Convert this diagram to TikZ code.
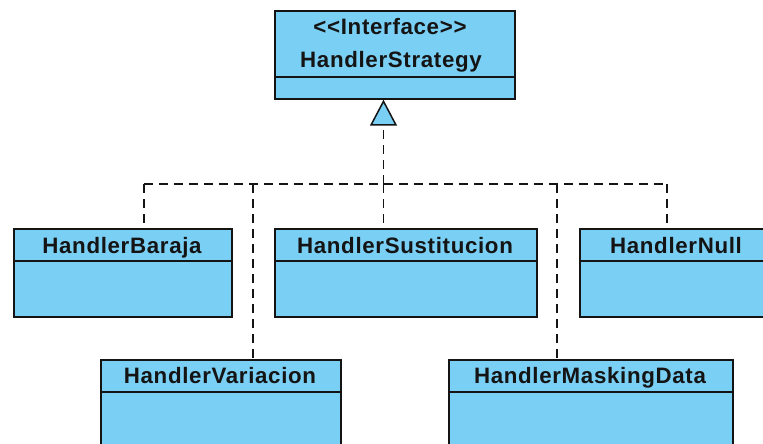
\documentclass[tikz,border=0pt]{standalone}
\usepackage{fontspec}
\setmainfont{Liberation Sans}[LetterSpace=3]
\usetikzlibrary{arrows.meta,calc}
\definecolor{umlfill}{RGB}{122,207,245}
\definecolor{umlink}{RGB}{20,20,20}
\tikzset{
  classbox/.style={draw=umlink, fill=umlfill, line width=1.7pt, inner sep=0pt, anchor=north west},
  divider/.style={draw=umlink, line width=1.7pt},
  classname/.style={font=\fontsize{22.3}{24}\selectfont\bfseries, text=umlink, anchor=base, inner sep=0pt},
  realize/.style={draw=umlink, line width=1.5pt, dash pattern=on 9pt off 6pt},
  hollowtri/.style={-{Triangle[length=26pt,width=27pt,fill=umlfill,line width=1.5pt]}}
}
% one class box: name, left, top, right, divider y, bottom, label, label baseline
\newcommand{\umlclass}[8]{%
  \node[classbox, minimum width=#4pt-#2pt, minimum height=#6pt-#3pt] (#1) at (#2pt,-#3pt) {};
  \draw[divider] (#2pt,-#5pt) -- (#4pt,-#5pt);
  \node[classname] (#1-t) at ({(#2pt+#4pt)/2},-#8pt) {#7};
}
\begin{document}
\begin{tikzpicture}[x=1pt,y=1pt]
\useasboundingbox (0,0) rectangle (763,-444);
\clip (0,0) rectangle (763,-444);

% interface
\node[classbox, minimum width=240pt, minimum height=88pt] (iface) at (274,-10) {};
\draw[divider] (274,-77) -- (514,-77);
\node[classname] (iface-s) at (390,-35) {{<}{<}Interface{>}{>}};
\node[classname] (iface-n) at (391,-68) {HandlerStrategy};

% implementing classes
\umlclass{baraja}{13}{228}{231}{261}{316}{HandlerBaraja}{253}
\umlclass{sust}{274}{228}{536}{261}{316}{HandlerSustitucion}{253}
\umlclass{null}{579}{228}{773}{261}{316}{HandlerNull}{253}
\umlclass{vari}{100}{359}{340}{392}{470}{HandlerVariacion}{383}
\umlclass{mask}{448}{359}{732}{392}{470}{HandlerMaskingData}{383}

% realization connectors
\coordinate (j) at (383.5,-184);
\coordinate (jb) at (144,-184);
\coordinate (jv) at (253,-184);
\coordinate (jm) at (557,-184);
\coordinate (jn) at (667,-184);
\draw[realize] (jb) -- (jn);
\draw[realize] (jb) -- (jb |- baraja.north);
\draw[realize] (jv) -- (jv |- vari.north);
\draw[realize] (j) -- (j |- sust.north);
\draw[realize] (jm) -- (jm |- mask.north);
\draw[realize] (jn) -- (jn |- null.north);
\draw[realize, hollowtri] (j) -- (j |- iface.south);
\end{tikzpicture}
\end{document}
